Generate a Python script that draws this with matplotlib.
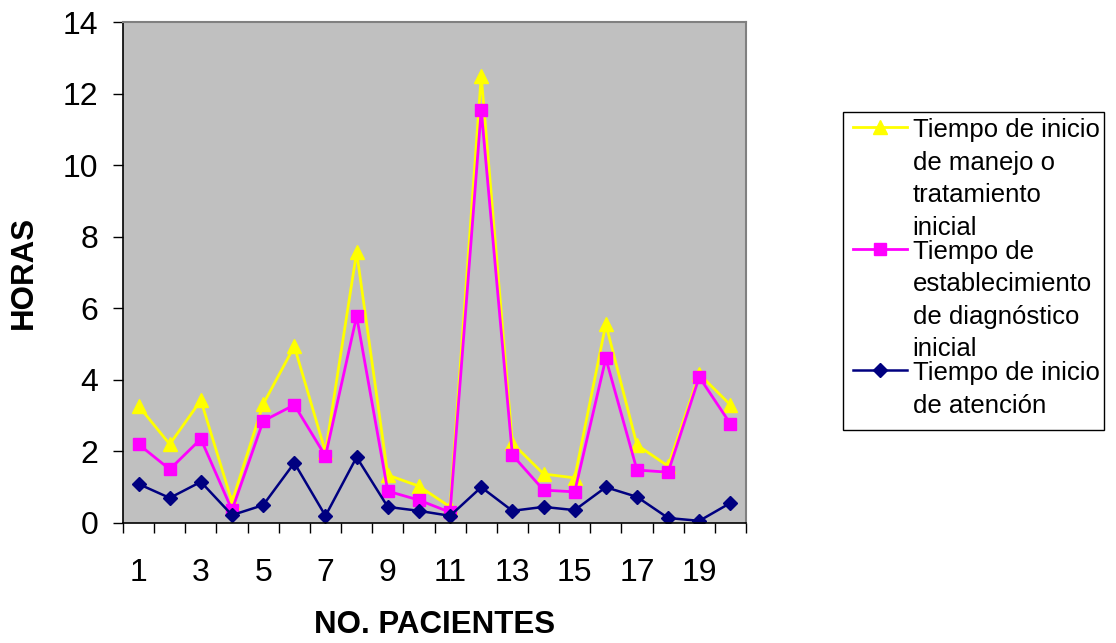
import matplotlib
matplotlib.use("Agg")
import matplotlib.pyplot as plt
import numpy as np
from matplotlib.ticker import MultipleLocator, FixedLocator
from matplotlib.patches import Rectangle

plt.rcParams['font.family'] = ['Liberation Sans', 'DejaVu Sans']

pacientes = list(range(1, 21))
manejo = [3.27, 2.20, 3.43, 0.59, 3.32, 4.94, 1.98, 7.57, 1.34, 1.03,
          0.45, 12.49, 2.23, 1.37, 1.26, 5.56, 2.18, 1.59, 4.16, 3.30]
diagnostico = [2.20, 1.50, 2.35, 0.36, 2.85, 3.30, 1.87, 5.78, 0.89, 0.64,
               0.30, 11.54, 1.90, 0.92, 0.87, 4.60, 1.48, 1.42, 4.08, 2.77]
atencion = [1.09, 0.70, 1.15, 0.22, 0.50, 1.68, 0.20, 1.84, 0.45, 0.34,
            0.20, 1.00, 0.34, 0.45, 0.36, 1.00, 0.73, 0.14, 0.06, 0.56]
labels = ["Tiempo de inicio\nde manejo o\ntratamiento\ninicial",
          "Tiempo de\nestablecimiento\nde diagnóstico\ninicial",
          "Tiempo de inicio\nde atención"]
xtick_labels = [str(i) for i in range(1, 21, 2)]

W, H = 1116, 643
fig = plt.figure(figsize=(W/100, H/100), dpi=100)
ax = fig.add_axes([123/W, 1-523/H, 623/W, 501/H])
ax.set_facecolor('#C0C0C0')

ax.plot(pacientes, manejo, color='#FFFF00', marker='^', markersize=10,
        linewidth=2.0, label=labels[0])
ax.plot(pacientes, diagnostico, color='#FF00FF', marker='s', markersize=9,
        linewidth=2.0, label=labels[1])
ax.plot(pacientes, atencion, color='#000080', marker='D', markersize=7,
        linewidth=1.8, label=labels[2])

ax.set_xlim(0.5, 20.5)
ax.set_ylim(0, 14)
ax.yaxis.set_major_locator(MultipleLocator(2))
ax.tick_params(axis='y', direction='out', length=7, width=1, pad=11, labelsize=23)
ax.xaxis.set_major_locator(FixedLocator(list(range(1, 21, 2))))
ax.set_xticklabels(xtick_labels)
ax.xaxis.set_minor_locator(FixedLocator(np.arange(0.5, 21, 1.0)))
ax.tick_params(axis='x', which='major', length=0, pad=25, labelsize=23)
ax.tick_params(axis='x', which='minor', direction='out', length=7, width=1)

for s in ['top', 'right']:
    ax.spines[s].set_color('#808080')
    ax.spines[s].set_linewidth(1.5)
for s in ['left', 'bottom']:
    ax.spines[s].set_color('black')
    ax.spines[s].set_linewidth(1.2)

ax.set_ylabel('HORAS', fontsize=22.5, fontweight='bold', va='center')
ax.yaxis.set_label_coords(-0.159, 0.5)
ax.set_xlabel('NO. PACIENTES', fontsize=22.5, fontweight='bold', va='center')
ax.xaxis.set_label_coords(0.5, -0.2026)

# legend frame
fig.patches.append(Rectangle((843/W, 1-430/H), 261/W, 318/H,
                             transform=fig.transFigure, facecolor='white',
                             edgecolor='black', linewidth=1.0, zorder=1))

leg = fig.legend(loc='upper left', bbox_to_anchor=(853/W, 1-118/H),
                 fontsize=18.5, frameon=False, borderpad=0,
                 labelspacing=0.0, handlelength=2.1,
                 handletextpad=0.22, borderaxespad=0)
leg.set_zorder(2)
for t in leg.get_texts():
    t.set_linespacing(1.45)
for col in leg._legend_handle_box.get_children():
    for hp in col.get_children():
        hp.align = 'top'

fig.savefig('out.png', dpi=100)
